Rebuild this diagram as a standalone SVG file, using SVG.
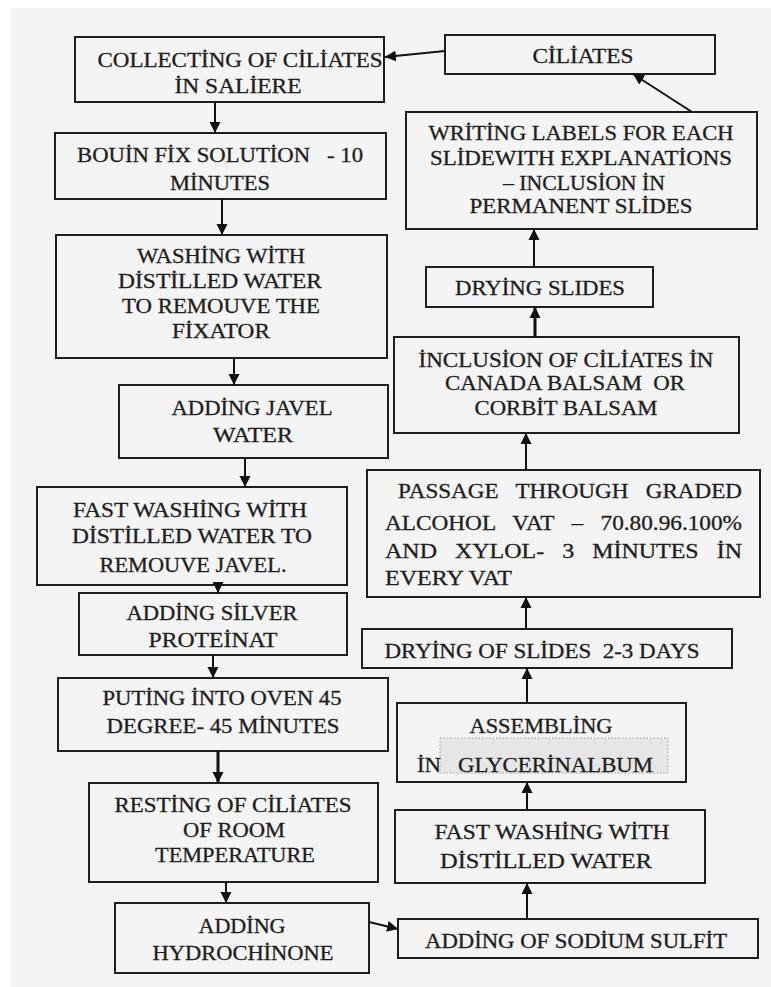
<svg xmlns="http://www.w3.org/2000/svg" width="771" height="987" viewBox="0 0 771 987">
<style>
.b{fill:none;stroke:#1e1e1e;stroke-width:2}
.t{font-family:"Liberation Serif","Times New Roman",serif;font-size:20px;fill:#1e1e1e;stroke:#1e1e1e;stroke-width:0.3;text-anchor:middle}
.l{text-anchor:start}
.c{fill:none;stroke:#111;stroke-width:2;marker-end:url(#ah)}
</style>
<defs>
<marker id="ah" markerUnits="userSpaceOnUse" markerWidth="12" markerHeight="12" refX="11" refY="6" orient="auto">
<path d="M0,0.5 L11,6 L0,11.5 z" fill="#111"/>
</marker>
</defs>
<rect width="771" height="987" fill="#ffffff"/>
<rect x="10" y="8" width="761" height="979" fill="#f4f4f4"/>

<g id="n1"><rect class="b" x="75" y="37" width="309" height="65"/>
<text class="t" x="240" y="67" textLength="285" lengthAdjust="spacingAndGlyphs">COLLECTİNG OF CİLİATES</text>
<text class="t" x="238" y="93" textLength="127" lengthAdjust="spacingAndGlyphs">İN SALİERE</text></g>

<g id="n2"><rect class="b" x="55" y="133" width="331" height="66"/>
<text class="t" x="220" y="162" textLength="286" lengthAdjust="spacingAndGlyphs" xml:space="preserve">BOUİN FİX SOLUTİON   - 10</text>
<text class="t" x="220" y="190" textLength="100" lengthAdjust="spacingAndGlyphs">MİNUTES</text></g>

<g id="n3"><rect class="b" x="56" y="235" width="331" height="123"/>
<text class="t" x="221" y="263" textLength="168" lengthAdjust="spacingAndGlyphs">WASHİNG WİTH</text>
<text class="t" x="220" y="288" textLength="204" lengthAdjust="spacingAndGlyphs">DİSTİLLED WATER</text>
<text class="t" x="221" y="313" textLength="198" lengthAdjust="spacingAndGlyphs">TO REMOUVE THE</text>
<text class="t" x="221" y="338" textLength="98" lengthAdjust="spacingAndGlyphs">FİXATOR</text></g>

<g id="n4"><rect class="b" x="119" y="385" width="269" height="73"/>
<text class="t" x="252" y="415" textLength="161" lengthAdjust="spacingAndGlyphs">ADDİNG JAVEL</text>
<text class="t" x="253" y="442" textLength="80" lengthAdjust="spacingAndGlyphs">WATER</text></g>

<g id="n5"><rect class="b" x="37" y="487" width="310" height="98"/>
<text class="t" x="190" y="517" textLength="234" lengthAdjust="spacingAndGlyphs">FAST WASHİNG WİTH</text>
<text class="t" x="192" y="543" textLength="240" lengthAdjust="spacingAndGlyphs">DİSTİLLED WATER TO</text>
<text class="t" x="193" y="572" textLength="187" lengthAdjust="spacingAndGlyphs">REMOUVE JAVEL.</text></g>

<g id="n6"><rect class="b" x="79" y="593" width="268" height="62"/>
<text class="t" x="212" y="620" textLength="171" lengthAdjust="spacingAndGlyphs">ADDİNG SİLVER</text>
<text class="t" x="213" y="647" textLength="129" lengthAdjust="spacingAndGlyphs">PROTEİNAT</text></g>

<g id="n7"><rect class="b" x="58" y="678" width="330" height="73"/>
<text class="t" x="222" y="705" textLength="239" lengthAdjust="spacingAndGlyphs">PUTİNG İNTO OVEN 45</text>
<text class="t" x="223" y="733" textLength="233" lengthAdjust="spacingAndGlyphs">DEGREE- 45 MİNUTES</text></g>

<g id="n8"><rect class="b" x="89" y="783" width="289" height="99"/>
<text class="t" x="233" y="812" textLength="237" lengthAdjust="spacingAndGlyphs">RESTİNG OF CİLİATES</text>
<text class="t" x="234" y="837" textLength="102" lengthAdjust="spacingAndGlyphs">OF ROOM</text>
<text class="t" x="235" y="862" textLength="160" lengthAdjust="spacingAndGlyphs">TEMPERATURE</text></g>

<g id="n9"><rect class="b" x="115" y="903" width="254" height="70"/>
<text class="t" x="242" y="933" textLength="87" lengthAdjust="spacingAndGlyphs">ADDİNG</text>
<text class="t" x="243" y="960" textLength="181" lengthAdjust="spacingAndGlyphs">HYDROCHİNONE</text></g>

<g id="n10"><rect class="b" x="398" y="919" width="360" height="39"/>
<text class="t" x="576" y="948" textLength="302" lengthAdjust="spacingAndGlyphs">ADDİNG OF SODİUM SULFİT</text></g>

<g id="n11"><rect class="b" x="395" y="810" width="310" height="73"/>
<text class="t" x="552" y="839" textLength="235" lengthAdjust="spacingAndGlyphs">FAST WASHİNG WİTH</text>
<text class="t" x="546" y="868" textLength="212" lengthAdjust="spacingAndGlyphs">DİSTİLLED WATER</text></g>

<g id="n12"><rect class="b" x="397" y="703" width="289" height="79"/>
<rect x="440" y="738" width="228" height="35" fill="#e6e6e6" stroke="#9a9a9a" stroke-width="1" stroke-dasharray="1.5,2"/>
<text class="t" x="541" y="733" textLength="143" lengthAdjust="spacingAndGlyphs">ASSEMBLİNG</text>
<text class="t l" x="417" y="772" textLength="236" lengthAdjust="spacingAndGlyphs" xml:space="preserve">İN   GLYCERİNALBUM</text></g>

<g id="n13"><rect class="b" x="362" y="629" width="370" height="39"/>
<text class="t" x="542" y="658" textLength="315" lengthAdjust="spacingAndGlyphs" xml:space="preserve">DRYİNG OF SLİDES  2-3 DAYS</text></g>

<g id="n14"><rect class="b" x="367" y="470" width="393" height="127"/>
<text class="t l" x="398" y="498" textLength="344" lengthAdjust="spacingAndGlyphs" xml:space="preserve">PASSAGE   THROUGH   GRADED</text>
<text class="t l" x="385" y="530" textLength="357" lengthAdjust="spacingAndGlyphs" xml:space="preserve">ALCOHOL   VAT   –   70.80.96.100%</text>
<text class="t l" x="385" y="558" textLength="357" lengthAdjust="spacingAndGlyphs" xml:space="preserve">AND   XYLOL-   3   MİNUTES   İN</text>
<text class="t l" x="385" y="585" textLength="127" lengthAdjust="spacingAndGlyphs">EVERY VAT</text></g>

<g id="n15"><rect class="b" x="394" y="337" width="345" height="96"/>
<text class="t" x="566" y="367" textLength="295" lengthAdjust="spacingAndGlyphs">İNCLUSİON OF CİLİATES İN</text>
<text class="t" x="565" y="390" textLength="240" lengthAdjust="spacingAndGlyphs" xml:space="preserve">CANADA BALSAM  OR</text>
<text class="t" x="566" y="415" textLength="183" lengthAdjust="spacingAndGlyphs">CORBİT BALSAM</text></g>

<g id="n16"><rect class="b" x="426" y="267" width="227" height="40"/>
<text class="t" x="540" y="295" textLength="170" lengthAdjust="spacingAndGlyphs">DRYİNG SLIDES</text></g>

<g id="n17"><rect class="b" x="406" y="112" width="351" height="117"/>
<text class="t" x="581" y="140" textLength="305" lengthAdjust="spacingAndGlyphs">WRİTİNG LABELS FOR EACH</text>
<text class="t" x="581" y="165" textLength="302" lengthAdjust="spacingAndGlyphs">SLİDEWITH EXPLANATİONS</text>
<text class="t" x="584" y="190" textLength="162" lengthAdjust="spacingAndGlyphs">– INCLUSİON İN</text>
<text class="t" x="581" y="213" textLength="223" lengthAdjust="spacingAndGlyphs">PERMANENT SLİDES</text></g>

<g id="n18"><rect class="b" x="445" y="35" width="270" height="39"/>
<text class="t" x="583" y="63" textLength="101" lengthAdjust="spacingAndGlyphs">CİLİATES</text></g>

<g id="connectors">
<line class="c" x1="445" y1="51" x2="385" y2="57"/>
<line class="c" x1="215" y1="102" x2="215" y2="133"/>
<line class="c" x1="222" y1="199" x2="222" y2="235"/>
<line class="c" x1="234" y1="358" x2="234" y2="385"/>
<line class="c" x1="245" y1="458" x2="245" y2="487"/>
<line class="c" x1="218" y1="585" x2="218" y2="593"/>
<line class="c" x1="213" y1="655" x2="213" y2="678"/>
<line class="c" style="stroke-width:3" x1="218" y1="751" x2="218" y2="783"/>
<line class="c" x1="226" y1="882" x2="226" y2="903"/>
<line class="c" x1="369" y1="922" x2="398" y2="929"/>
<line class="c" x1="527" y1="919" x2="527" y2="883"/>
<line class="c" x1="527" y1="810" x2="527" y2="782"/>
<line class="c" x1="527" y1="703" x2="527" y2="668"/>
<line class="c" x1="526" y1="629" x2="526" y2="597"/>
<line class="c" x1="526" y1="470" x2="526" y2="433"/>
<line class="c" style="stroke-width:3" x1="535" y1="337" x2="535" y2="307"/>
<line class="c" x1="534" y1="267" x2="534" y2="229"/>
<line class="c" x1="692" y1="112" x2="633" y2="74"/>
</g>
</svg>
